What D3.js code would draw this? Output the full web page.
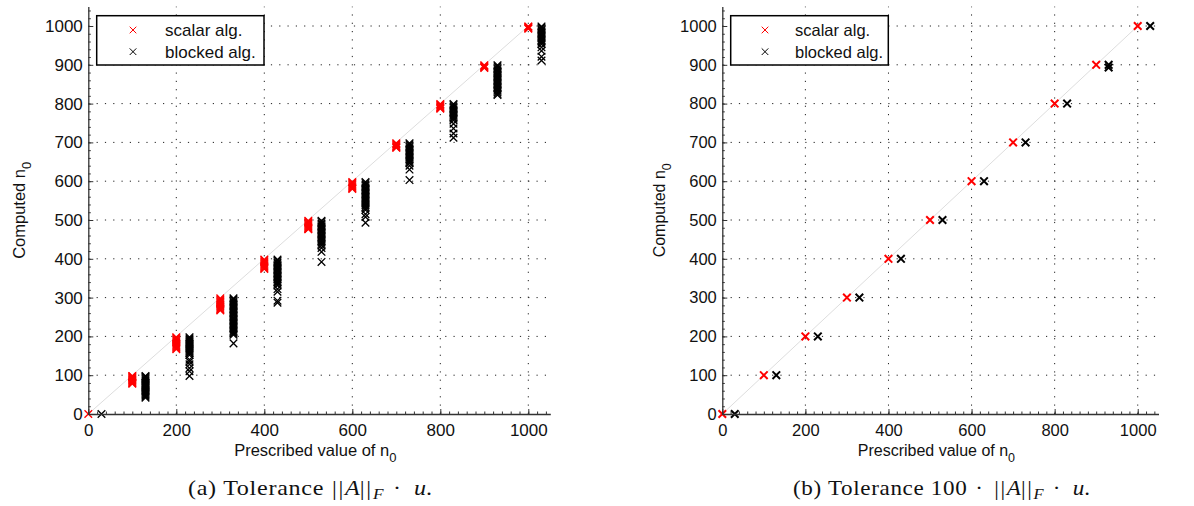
<!DOCTYPE html>
<html><head><meta charset="utf-8">
<script src="https://cdn.jsdelivr.net/npm/d3@7"></script>
<style>body{margin:0;background:#fff}</style>
</head><body><svg id="c" width="1194" height="506"></svg>
<script>
// ---- data ----
const prescribed = [0,100,200,300,400,500,600,700,800,900,1000];
const blockedX   = [30,130,230,330,430,530,630,730,830,930,1030];
const scalarTolA = [
  [0],
  [98,97,95,93,91,89,87,85,83,81,79,78],
  [198,196,193,190,187,184,181,178,175,172,169,167],
  [298,295,292,289,286,283,280,277,274,271,269,267],
  [398,396,393,390,387,384,381,378,376,374],
  [498,496,493,490,487,484,481,479,477,476],
  [598,596,593,590,587,584,582,580],
  [698,696,694,691,689,687,686],
  [799,797,795,792,790,788,787],
  [899,897,895,893,892],
  [999,998,996,994,993]
];
const blockedTolA = [
  [0],
  [98,96,93,90,87,84,81,78,75,72,69,66,63,60,57,54,51,48,45,42],
  [198,195,192,189,186,183,180,177,174,171,168,165,162,159,156,152,140,135,128,118,110,98],
  [298,295,291,288,284,281,277,274,270,267,263,260,256,253,249,246,242,239,235,232,228,225,221,218,214,211,207,204,182],
  [398,395,391,388,384,381,377,374,370,367,363,360,356,353,349,346,342,339,335,331,322,315,292,287],
  [498,495,491,488,484,481,477,474,470,467,463,460,456,453,449,446,442,438,434,428,418,392],
  [598,595,591,588,584,581,577,574,570,567,563,560,556,553,549,546,542,538,534,530,526,515,508,493],
  [698,695,691,688,684,681,677,674,670,667,663,660,656,653,649,646,640,630,603],
  [799,796,792,789,785,782,778,775,771,768,764,761,757,748,736,723,712],
  [899,896,892,889,885,882,878,875,871,868,864,861,857,854,850,847,843,840,836,833,829,825,822],
  [999,996,992,989,985,982,978,975,971,968,964,961,957,953,945,936,921,911]
];
const scalarTolB  = [[0],[100],[200],[300],[400],[500],[600],[700],[800],[900],[1000]];
const blockedTolB = [[0],[100],[200],[300],[400],[500],[600],[700],[800],[900,893],[1000]];
const xTicks = [0,200,400,600,800,1000];
const yTicks = [0,100,200,300,400,500,600,700,800,900,1000];
const minorTicks = d3.range(0, 1041, 20);
const legendLabels = ["scalar alg.", "blocked alg."];
const seriesColors = ["#ff0000", "#000000"];

const svg = d3.select("#c");
const SANS = "Liberation Sans, Arial, Helvetica, sans-serif";
const SERIF = "Liberation Serif, Times New Roman, serif";

function panel(cfg) {
  const x = d3.scaleLinear().domain([0,1050]).range([cfg.x0, cfg.x1]);
  const y = d3.scaleLinear().domain([0,1050]).range([414, 6.6]);
  const g = svg.append("g");
  const fs = cfg.fs;

  // grid
  g.append("g").selectAll("line").data(xTicks.filter(d=>d>0)).join("line")
    .attr("x1", d=>x(d)).attr("x2", d=>x(d)).attr("y1", y(0)).attr("y2", y(1050))
    .attr("stroke", "#222").attr("stroke-width", 1).attr("stroke-dasharray", "1.2,7.1");
  g.append("g").selectAll("line").data(yTicks.filter(d=>d>0)).join("line")
    .attr("y1", d=>y(d)).attr("y2", d=>y(d)).attr("x1", x(0)).attr("x2", x(1050))
    .attr("stroke", "#222").attr("stroke-width", 1).attr("stroke-dasharray", "1.2,7.1");

  // diagonal
  g.append("line").attr("x1", x(0)).attr("y1", y(0)).attr("x2", x(1000)).attr("y2", y(1000))
    .attr("stroke", "#dddddd").attr("stroke-width", 1);

  const r = 3.8;
  const cross = `M${-r},${-r}L${r},${r}M${-r},${r}L${r},${-r}`;
  function drawSeries(xs, vals, color) {
    const pts = [];
    xs.forEach((xv, i) => vals[i].forEach(v => pts.push([xv, v])));
    g.append("g").selectAll("path").data(pts).join("path")
      .attr("d", cross).attr("transform", d=>`translate(${x(d[0])},${y(d[1])})`)
      .attr("fill", "none").attr("stroke", color).attr("stroke-width", cfg.msw);
  }
  drawSeries(prescribed, cfg.scalar, seriesColors[0]);
  drawSeries(blockedX, cfg.blocked, seriesColors[1]);

  // axes
  const fmt = d3.format("d");
  const ax = g.append("g").attr("transform", `translate(0,${y(0)})`)
    .call(d3.axisBottom(x).tickValues(xTicks).tickFormat(fmt).tickSize(-5).tickSizeOuter(0).tickPadding(10));
  g.append("g").attr("transform", `translate(0,${y(0)})`)
    .call(d3.axisBottom(x).tickValues(minorTicks).tickSize(-2.5).tickSizeOuter(0).tickFormat(""))
    .call(s=>s.select(".domain").remove());
  const ay = g.append("g").attr("transform", `translate(${x(0)},0)`)
    .call(d3.axisLeft(y).tickValues(yTicks).tickFormat(fmt).tickSize(-5).tickSizeOuter(0).tickPadding(5.5));
  g.append("g").attr("transform", `translate(${x(0)},0)`)
    .call(d3.axisLeft(y).tickValues(minorTicks).tickSize(-2.5).tickSizeOuter(0).tickFormat(""))
    .call(s=>s.select(".domain").remove());
  g.selectAll(".domain").attr("stroke", "#333").attr("stroke-width", 1.3);
  g.selectAll(".tick line").attr("stroke", "#333");
  [ax, ay].forEach(a => a.selectAll("text")
    .attr("font-family", SANS).attr("font-size", fs).attr("fill", "#111"));

  // axis labels
  const xl = g.append("text").attr("x", (x(0)+x(1050))/2 - 4).attr("y", 456)
    .attr("text-anchor", "middle").attr("font-family", SANS)
    .attr("font-size", fs - 0.5).attr("fill", "#111");
  xl.append("tspan").text("Prescribed value of n");
  xl.append("tspan").attr("font-size", fs - 4).attr("dy", 6).text("0");

  const yl = g.append("text")
    .attr("transform", `translate(${cfg.ylx},${(y(0)+y(1050))/2}) rotate(-90)`)
    .attr("text-anchor", "middle").attr("font-family", SANS)
    .attr("font-size", fs - 0.5).attr("fill", "#111");
  yl.append("tspan").text("Computed n");
  yl.append("tspan").attr("font-size", fs - 4).attr("dy", 6).text("0");

  // legend
  const L = cfg.legend;
  g.append("rect").attr("x", L.x).attr("y", 15.7).attr("width", L.w).attr("height", 49.3)
    .attr("fill", "#fff").attr("stroke", "#000").attr("stroke-width", 1.5);
  legendLabels.forEach((lab, i) => {
    const cy = [30, 51.7][i];
    g.append("path").attr("d", `M-3.3,-3.3L3.3,3.3M-3.3,3.3L3.3,-3.3`)
      .attr("transform", `translate(${L.mx},${cy})`)
      .attr("stroke", seriesColors[i]).attr("fill", "none").attr("stroke-width", 1);
    g.append("text").attr("x", L.tx).attr("y", [36, 58.3][i]).text(lab)
      .attr("font-family", SANS).attr("font-size", fs).attr("fill", "#111");
  });

  // caption
  const cap = g.append("text").attr("x", cfg.capx).attr("y", 495).attr("text-anchor", "middle")
    .attr("font-family", SERIF).attr("font-size", 21).attr("fill", "#111")
    .attr("textLength", cfg.capw).attr("lengthAdjust", "spacingAndGlyphs");
  cfg.cap.forEach(p => {
    const t = cap.append("tspan").text(p.t);
    if (p.it) t.attr("font-style", "italic");
    if (p.ls) t.attr("letter-spacing", p.ls);
    if (p.dx) t.attr("dx", p.dx);
    if (p.sub) t.attr("font-size", 15).attr("dy", 4);
    if (p.up) t.attr("dy", -4);
  });
}

const mathPart = [
  {t: "||", ls: 1.5, dx: 1},
  {t: "A", it: true},
  {t: "||", ls: 1.5},
  {t: "F", it: true, sub: true},
  {t: " \u00b7 ", up: true, ls: 3},
  {t: "u", it: true},
  {t: "."}
];

panel({x0: 88.3, x1: 550.3, scalar: scalarTolA, blocked: blockedTolA, fs: 17, msw: 1.3, ylx: 25,
  legend: {x: 96.7, w: 167.3, mx: 133, tx: 165}, capx: 310, capw: 244,
  cap: [{t: "(a) Tolerance ", ls: 0.6}].concat(mathPart)});
panel({x0: 722.3, x1: 1158.5, scalar: scalarTolB, blocked: blockedTolB, fs: 16.5, msw: 2, ylx: 665,
  legend: {x: 730.7, w: 157.6, mx: 765, tx: 795}, capx: 941.5, capw: 297,
  cap: [{t: "(b) Tolerance 100", ls: 0.6}, {t: " \u00b7 ", ls: 2}].concat(mathPart)});
</script></body></html>
